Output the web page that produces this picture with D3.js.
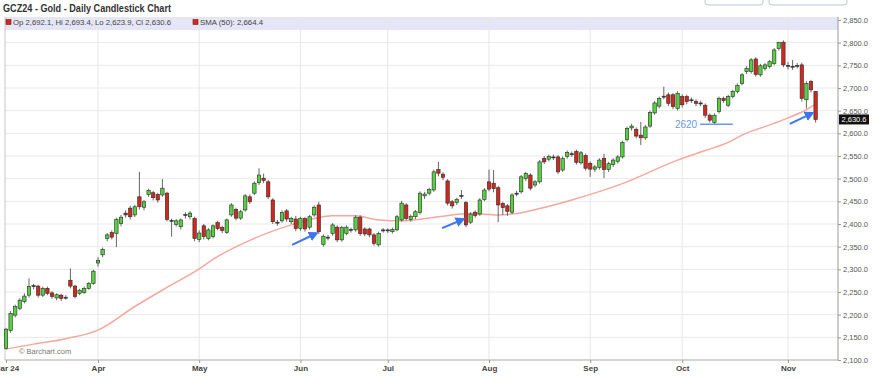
<!DOCTYPE html>
<html>
<head>
<meta charset="utf-8">
<script src="https://cdn.jsdelivr.net/npm/d3@7"></script>
<style>
  body { margin: 0; background: #fff; }
  svg { display: block; font-family: "Liberation Sans", Arial, sans-serif; }
</style>
</head>
<body>
<div id="chart"></div>
<script>
// GCZ24 daily candles, 1 Mar 2024 .. 11 Nov 2024 (one entry per trading day)
const opens = [
  2126,2165,2199,2214,2229,2243,2262,2263,2243,2258,2248,2237,2243,2238,2276,2263,2247,2249,2258,2269,
  2314,2332,2368,2381,2379,2401,2424,2435,2420,2460,2437,2465,2469,2465,2464,2468,2408,2399,2394,2419,2416,2412,
  2366,2396,2368,2372,2403,2392,2381,2420,2432,2413,2431,2460,2468,2491,2501,2493,2453,2402,2407,2429,2405,2411,
  2390,2412,2393,2420,2442,2355,2369,2379,2393,2365,2379,2386,2387,2415,2389,2389,2376,2354,2385,
  2385,2383,2387,2409,2442,2410,2416,2425,2462,2468,2475,2520,2510,2495,2449,2447,2461,2447,2404,2426,2422,2454,
  2493,2490,2480,2445,2440,2426,2466,2471,2500,2508,2486,2493,2545,2543,2546,2548,2519,2549,2553,2560,2535,2551,
  2534,2521,2525,2545,2520,2531,2538,2548,2586,2612,2609,2596,2590,2616,2645,2660,2681,2685,2685,2655,
  2681,2681,2672,2670,2665,2662,2640,2624,2648,2677,2662,2681,2692,2710,2736,2736,2764,2729,2743,2747,2754,2787,2801,
  2748,2747,2749,2751,2674,2714,2692.1
];
const highs = [
  2171,2208,2222,2236,2247,2280,2268,2266,2262,2262,2252,2247,2246,2243,2302,2266,2257,2262,2272,2299,
  2327,2348,2380,2386,2414,2420,2430,2440,2442,2515,2453,2478,2473,2469,2499,2471,2412,2411,2412,2426,2428,2416,
  2386,2400,2391,2399,2407,2396,2412,2446,2436,2431,2466,2465,2494,2523,2511,2497,2457,2409,2430,2433,2416,2418,
  2416,2415,2420,2441,2449,2377,2376,2402,2397,2396,2397,2392,2419,2419,2393,2392,2380,2383,2391,
  2390,2392,2420,2451,2446,2421,2431,2472,2471,2480,2520,2537,2514,2499,2453,2458,2475,2451,2426,2430,2457,2479,
  2520,2519,2484,2449,2444,2468,2473,2508,2515,2512,2497,2541,2550,2553,2553,2552,2549,2562,2560,2564,2561,2555,
  2538,2530,2545,2555,2537,2545,2552,2584,2615,2621,2613,2625,2618,2650,2671,2681,2703,2690,2689,2693,
  2686,2685,2679,2675,2672,2666,2644,2644,2681,2681,2685,2696,2710,2733,2748,2766,2768,2753,2755,2762,2788,2802,2805,
  2757,2762,2755,2756,2715,2718,2693.4
];
const lows = [
  2123,2160,2194,2210,2225,2238,2256,2238,2239,2243,2235,2232,2230,2233,2258,2236,2243,2246,2255,2266,
  2306,2327,2362,2366,2349,2395,2414,2410,2415,2432,2430,2460,2452,2447,2460,2406,2372,2394,2388,2412,2410,2362,
  2360,2366,2364,2368,2386,2380,2378,2416,2408,2409,2427,2444,2464,2486,2490,2455,2400,2396,2403,2405,2400,2384,
  2385,2383,2388,2416,2378,2350,2364,2374,2360,2361,2375,2381,2383,2374,2373,2371,2352,2350,2381,
  2380,2379,2384,2405,2408,2405,2411,2421,2455,2463,2471,2505,2497,2441,2434,2442,2455,2393,2400,2414,2418,2450,
  2472,2470,2404,2420,2418,2422,2461,2467,2495,2474,2481,2489,2532,2538,2541,2510,2515,2544,2548,2531,2531,2518,
  2504,2515,2520,2501,2515,2526,2533,2544,2582,2606,2589,2574,2586,2612,2641,2655,2675,2660,2653,2650,
  2657,2664,2667,2660,2660,2634,2624,2620,2644,2667,2658,2677,2688,2706,2731,2732,2725,2725,2738,2743,2750,2783,2746,
  2741,2740,2743,2670,2655,2690,2623.9
];
const closes = [
  2168,2203,2218,2232,2241,2262,2264,2243,2258,2247,2240,2244,2236,2238.5,2263,2240,2254,2258,2269,2296,
  2320,2344,2376,2371,2410,2415,2420,2416,2438,2438,2449,2474,2458,2453,2479,2410,2406,2407,2409,2421,2424,2368,
  2380,2372,2387,2396,2390,2386,2409,2442,2413,2427,2462,2449,2490,2508,2496,2460,2405,2404,2425,2411,2412,2390,
  2412,2389,2416,2437,2383,2373,2371,2398,2365,2392,2393,2388,2415,2379,2378,2376,2357,2379,2387,
  2387,2388,2416,2446,2412,2417,2427,2468,2466,2476,2515,2512,2503,2446,2440,2454,2463,2398,2422,2419,2453,2475,
  2477,2478,2442,2436,2428,2464,2468,2504,2511,2479,2493,2537,2537,2549,2548,2515,2545,2558,2555,2536,2557,2523,
  2521,2526,2541,2520,2533,2541,2548,2580,2611,2616,2594,2590,2614,2646,2667,2677,2682,2666,2659,2688,
  2663,2670,2674,2666,2667,2640,2629,2640,2677,2672,2681,2692,2706,2729,2743,2762,2730,2749,2751,2758,2784,2800,2751,
  2750,2748,2750,2677,2710,2696,2630.6
];

// SMA(50) at these candle indices
const smaIdx = [0, 6, 13, 20, 28, 35, 42, 45, 53, 62, 67, 71, 76, 81, 86, 94, 101, 107, 111, 116, 123, 134, 146, 152, 157, 160, 167, 170, 174, 176];
const smaVal = [2124, 2135, 2147, 2166, 2218, 2260, 2301, 2322, 2364, 2398, 2412, 2418, 2418, 2409, 2407, 2416, 2423, 2420, 2423, 2434, 2453, 2489, 2541, 2562, 2580, 2596, 2622, 2634, 2652, 2664.4];

const monthIdx = [0, 20, 42, 64, 83, 105, 127, 147, 170];
const monthLabels = ["Mar 24", "Apr", "May", "Jun", "Jul", "Aug", "Sep", "Oct", "Nov"];
const priceTicks = d3.range(2100, 2851, 50);

// annotations: [index, price] pairs
const arrows = [
  [[62.2, 2354], [67.4, 2379]],
  [[94.8, 2391], [99.3, 2410]],
  [[170.4, 2621], [175.2, 2644]]
];
const supportLevel = 2620;
const supportFrom = 150.9, supportTo = 158;

const width = 874, height = 378;
const plot = { left: 5, right: 838, top: 17, bottom: 360 };

const svg = d3.select('#chart').append('svg')
  .attr('width', width)
  .attr('height', height);

const x = d3.scaleLinear().domain([0, 176]).range([6, 815.6]);
const y = d3.scaleLinear().domain([2100, 2850]).range([360, 20]);

// top-right buttons (cut off by the frame)
svg.append('rect').attr('x', 705).attr('y', -8).attr('width', 58).attr('height', 13).attr('rx', 3)
  .attr('fill', '#fff').attr('stroke', '#b7c7df');
svg.append('rect').attr('x', 769).attr('y', -8).attr('width', 78).attr('height', 13).attr('rx', 3)
  .attr('fill', '#fff').attr('stroke', '#b7c7df');

// legend band
svg.append('rect')
  .attr('x', plot.left).attr('y', plot.top)
  .attr('width', plot.right - plot.left).attr('height', 13)
  .attr('fill', '#e5e5f8');

// grid
svg.append('g').selectAll('line').data(priceTicks).join('line')
  .attr('x1', plot.left).attr('x2', plot.right)
  .attr('y1', d => y(d)).attr('y2', d => y(d))
  .attr('stroke', '#e9e9e9');

svg.append('g').selectAll('line').data(monthIdx.slice(1)).join('line')
  .attr('x1', d => x(d)).attr('x2', d => x(d))
  .attr('y1', plot.top).attr('y2', plot.bottom)
  .attr('stroke', '#e6e6e6');

// frame
svg.append('line').attr('x1', plot.left).attr('x2', plot.left).attr('y1', plot.top).attr('y2', plot.bottom)
  .attr('stroke', '#c8c8c8');
svg.append('line').attr('x1', plot.left).attr('x2', plot.right).attr('y1', plot.bottom).attr('y2', plot.bottom)
  .attr('stroke', '#b5b5b5');

// title + legend
svg.append('text')
  .attr('x', 3).attr('y', 12)
  .attr('font-size', '10px').attr('font-weight', 'bold').attr('fill', '#333')
  .attr('textLength', 168).attr('lengthAdjust', 'spacingAndGlyphs')
  .text('GCZ24 - Gold - Daily Candlestick Chart');

svg.append('rect').attr('x', 6).attr('y', 19.5).attr('width', 5).attr('height', 5)
  .attr('fill', '#d42a1e').attr('stroke', '#7a1a12').attr('stroke-width', 0.6);
svg.append('text')
  .attr('x', 13).attr('y', 25)
  .attr('font-size', '7.5px').attr('fill', '#444')
  .attr('textLength', 158).attr('lengthAdjust', 'spacingAndGlyphs')
  .text('Op 2,692.1, Hi 2,693.4, Lo 2,623.9, Cl 2,630.6');
svg.append('rect').attr('x', 193).attr('y', 19.5).attr('width', 5).attr('height', 5)
  .attr('fill', '#d42a1e').attr('stroke', '#7a1a12').attr('stroke-width', 0.6);
svg.append('text')
  .attr('x', 200).attr('y', 25)
  .attr('font-size', '7.5px').attr('fill', '#444')
  .attr('textLength', 63).attr('lengthAdjust', 'spacingAndGlyphs')
  .text('SMA (50): 2,664.4');

// watermark
svg.append('text')
  .attr('x', 19).attr('y', 354)
  .attr('font-size', '7.5px').attr('fill', '#777')
  .text('\u00a9 Barchart.com');

// SMA
const smaLine = d3.line()
  .x((d, i) => x(smaIdx[i]))
  .y(d => y(d))
  .curve(d3.curveMonotoneX);

svg.append('path')
  .datum(smaVal)
  .attr('d', smaLine)
  .attr('fill', 'none')
  .attr('stroke', '#f5a89f')
  .attr('stroke-width', 1.5);

// candles
const candles = opens.map((o, i) => ({ i, o, h: highs[i], l: lows[i], c: closes[i] }));
const bodyW = 3.4;

const cg = svg.append('g').attr('class', 'candles');
cg.selectAll('line').data(candles).join('line')
  .attr('x1', d => x(d.i)).attr('x2', d => x(d.i))
  .attr('y1', d => y(d.h)).attr('y2', d => y(d.l))
  .attr('stroke', '#555').attr('stroke-width', 0.9);

cg.selectAll('rect').data(candles).join('rect')
  .attr('x', d => x(d.i) - bodyW / 2)
  .attr('width', bodyW)
  .attr('y', d => y(Math.max(d.o, d.c)))
  .attr('height', d => Math.max(1, Math.abs(y(d.o) - y(d.c))))
  .attr('fill', d => Math.abs(d.c - d.o) < 3 ? '#333' : (d.c > d.o ? '#55d13f' : '#d3261c'))
  .attr('stroke', d => Math.abs(d.c - d.o) < 3 ? '#333' : '#2a2a2a')
  .attr('stroke-width', 0.6);

// annotations
svg.append('defs').append('marker')
  .attr('id', 'ah').attr('viewBox', '0 0 10 10')
  .attr('refX', 7).attr('refY', 5)
  .attr('markerWidth', 5).attr('markerHeight', 5)
  .attr('orient', 'auto')
  .append('path').attr('d', 'M0,0 L10,5 L0,10 z').attr('fill', '#3b76ee');

svg.append('g').selectAll('line').data(arrows).join('line')
  .attr('x1', d => x(d[0][0])).attr('y1', d => y(d[0][1]))
  .attr('x2', d => x(d[1][0])).attr('y2', d => y(d[1][1]))
  .attr('stroke', '#3b76ee').attr('stroke-width', 2)
  .attr('marker-end', 'url(#ah)');

svg.append('line')
  .attr('x1', x(supportFrom)).attr('x2', x(supportTo))
  .attr('y1', y(supportLevel)).attr('y2', y(supportLevel))
  .attr('stroke', '#6a97f0').attr('stroke-width', 1.3);
svg.append('text')
  .attr('x', x(supportFrom) - 3).attr('y', y(supportLevel) + 4)
  .attr('text-anchor', 'end')
  .attr('font-size', '10px').attr('fill', '#6a97f0')
  .text(supportLevel);

// right price axis
const yAxis = d3.axisRight(y)
  .tickValues(priceTicks)
  .tickFormat(d3.format(',.1f'))
  .tickSize(3)
  .tickPadding(2);

const ya = svg.append('g')
  .attr('transform', `translate(${plot.right},0)`)
  .call(yAxis);
ya.select('.domain').attr('stroke', '#9a9a9a').attr('d', `M0,${plot.top}V${plot.bottom}`);
ya.selectAll('.tick line').attr('stroke', '#999');
ya.selectAll('.tick text').attr('font-size', '7.5px').attr('fill', '#555')
  .attr('font-family', '"Liberation Sans", Arial, sans-serif');

// bottom month axis
const xAxis = d3.axisBottom(x)
  .tickValues(monthIdx)
  .tickFormat((d, i) => monthLabels[i])
  .tickSize(3)
  .tickPadding(2);

const xa = svg.append('g')
  .attr('transform', `translate(0,${plot.bottom})`)
  .call(xAxis);
xa.select('.domain').remove();
xa.selectAll('.tick line').attr('stroke', '#999');
xa.selectAll('.tick text').attr('font-size', '8px').attr('font-weight', 'bold').attr('fill', '#444')
  .attr('font-family', '"Liberation Sans", Arial, sans-serif');

// last price tag
const last = closes[closes.length - 1];
svg.append('rect')
  .attr('x', plot.right + 1).attr('y', y(last) - 5)
  .attr('width', 30).attr('height', 10)
  .attr('fill', '#111');
svg.append('text')
  .attr('x', plot.right + 16).attr('y', y(last) + 3)
  .attr('text-anchor', 'middle')
  .attr('font-size', '7.5px').attr('fill', '#fff')
  .text(d3.format(',.1f')(last));
</script>
</body>
</html>
